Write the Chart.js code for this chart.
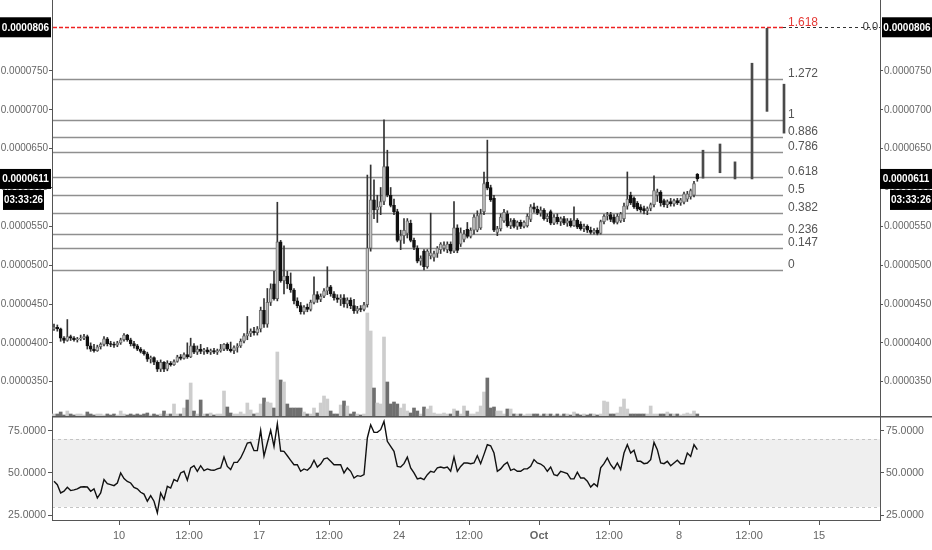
<!DOCTYPE html>
<html><head><meta charset="utf-8">
<script src="https://cdn.jsdelivr.net/npm/chart.js@4.4.1/dist/chart.umd.min.js"></script>
<style>
html,body{margin:0;padding:0;background:#fff;}
#wrap{position:relative;width:932px;height:550px;overflow:hidden;}
#c1{position:absolute;left:0;top:0;}
#c2{position:absolute;left:0;top:416px;}
</style></head><body>
<div id="wrap"><canvas id="c1" width="932" height="416"></canvas><canvas id="c2" width="932" height="134"></canvas></div>
<script>
// ---------------- DATA (prices in units of 1e-7) ----------------
const firstBarDay = 6.75;   // days since Aug 31 (Sep 6, 18:00)
const barHours = 4;
const opens = [
418,420,418,406,403,408,406,404,405,406,
408,396,392,390,395,398,405,399,398,397,
400,404,410,404,399,396,392,389,386,379,
381,375,366,375,366,374,372,376,382,380,
385,382,396,388,392,389,391,388,390,388,
390,392,398,392,390,394,396,402,409,412,
415,413,418,442,424,452,476,457,530,480,
486,476,468,454,448,440,446,443,452,462,
456,460,467,472,463,458,456,458,450,455,
448,441,444,443,449,522,584,571,575,582,
627,590,577,569,532,538,541,554,532,522,
505,518,498,512,510,515,520,522,520,527,
518,548,527,533,546,537,545,545,548,569,
607,600,586,542,547,557,566,551,558,550,
555,550,551,559,575,572,567,571,560,569,
554,562,556,560,554,557,551,558,553,547,
550,545,542,545,541,556,563,565,562,555,
557,560,576,590,586,580,575,573,570,573,
578,590,594,583,578,582,579,583,580,581,
585,588,590,617];
const highs = [
424,423,419,408,430,410,408,407,410,411,
410,400,398,397,400,408,407,402,401,402,
406,412,411,406,402,398,394,391,388,383,
382,377,378,376,377,376,378,384,385,387,
400,406,399,396,398,393,394,392,393,392,
398,399,400,401,396,399,405,412,434,418,
420,421,446,457,470,476,492,581,532,525,
492,490,470,458,452,448,450,455,485,466,
463,470,498,474,466,462,462,462,458,458,
456,447,448,452,616,629,610,590,600,687,
648,600,585,572,545,560,560,558,535,525,
512,520,520,567,518,524,529,530,530,530,
582,552,548,545,555,548,565,570,572,620,
661,603,590,550,566,572,570,560,560,557,
558,557,566,578,580,576,575,573,566,571,
565,566,562,563,560,560,575,560,556,553,
552,549,547,548,558,565,568,568,565,566,
568,580,620,594,588,582,578,576,575,580,
615,598,596,585,584,586,585,586,586,594,
595,598,608,618];
const lows = [
416,415,402,400,402,403,402,401,403,404,
392,389,388,389,392,396,396,395,394,395,
398,402,402,396,393,390,387,384,376,374,
372,363,363,363,364,370,371,375,378,379,
380,381,386,385,386,385,386,385,386,385,
388,390,390,388,386,388,394,400,404,408,
410,410,414,420,420,448,455,454,478,463,
470,465,450,445,437,437,440,441,450,452,
453,458,462,460,455,452,448,446,445,444,
438,438,440,441,446,518,560,555,565,578,
588,575,565,530,520,528,535,530,520,503,
500,494,496,508,505,510,515,518,516,515,
516,516,524,530,535,535,540,543,546,565,
597,582,543,538,544,555,549,547,548,546,
547,548,549,556,568,565,563,558,556,552,
552,553,551,552,550,549,550,547,545,543,
542,540,540,539,540,553,558,556,553,553,
555,556,572,578,573,570,568,566,565,570,
575,582,576,575,574,576,576,578,577,579,
582,585,588,608];
const closes = [
420,418,406,403,408,406,404,405,406,408,
396,392,390,395,398,405,399,398,397,400,
404,410,404,399,396,392,389,386,379,381,
375,366,375,366,374,372,376,382,380,385,
382,396,388,392,389,391,388,390,388,390,
392,398,392,390,394,396,402,409,412,415,
413,418,442,424,452,470,457,530,480,486,
476,468,454,448,440,446,443,452,462,456,
460,467,472,463,458,456,458,450,455,448,
441,444,443,449,522,584,571,575,582,627,
590,577,569,532,538,545,557,532,523,505,
509,498,518,516,515,522,527,526,527,518,
548,519,542,540,537,545,562,564,566,605,
599,584,545,547,562,568,551,556,550,555,
550,555,563,575,572,567,571,560,563,554,
562,556,560,554,557,551,558,549,547,550,
545,542,545,541,556,563,565,559,555,563,
566,576,585,580,575,572,571,570,573,578,
596,594,580,578,582,579,583,580,584,592,
592,596,605,611];
const volumes = [
2,2,4,1,5,2,1,2,2,1,
4,2,1,2,2,1,2,1,2,1,
5,2,1,2,1,2,1,2,3,1,
2,1,2,5,2,2,12,2,2,8,
16,33,5,2,16,2,2,3,1,2,
2,25,9,3,2,2,4,2,13,6,
2,3,12,18,14,13,8,64,36,34,
12,8,8,8,8,4,2,2,8,3,
13,20,17,5,2,2,11,15,10,2,
4,2,1,2,103,85,28,13,12,79,
34,12,14,12,8,12,5,3,8,5,
2,9,7,10,3,2,2,3,2,2,
7,5,2,10,5,2,2,4,10,24,
38,8,9,5,5,2,7,7,2,2,
2,1,2,2,2,2,1,2,2,2,
1,2,1,2,2,1,4,2,1,2,
1,2,2,1,2,15,14,2,2,3,
9,17,7,2,2,2,2,2,2,10,
2,2,2,2,4,2,2,2,1,2,
3,2,5,2];
const rsiValues = [
45.1,43.1,38.2,39.2,41.5,39.6,40.0,40.6,41.7,41.9,
41.7,39.2,40.6,35.2,38.2,46.1,43.7,43.1,42.5,44.1,
50.0,46.7,45.0,44.1,41.5,40.6,38.6,37.5,33.3,36.6,
33.3,26.4,38.2,34.3,42.1,41.1,46.1,45.1,50.0,51.0,
45.7,53.0,54.3,51.0,54.3,51.4,52.4,51.8,51.6,52.4,
53.0,59.4,53.9,52.0,56.3,56.3,58.9,63.0,67.7,68.1,
63.2,63.2,75.2,60.0,67.7,75.2,65.7,79.1,63.0,62.8,
60.2,57.5,54.9,54.9,51.0,52.4,51.6,53.5,57.5,53.5,
55.3,58.3,58.9,56.9,54.9,54.9,54.9,50.0,53.0,51.0,
47.0,48.4,48.0,49.0,70.7,78.5,74.0,74.0,75.6,80.5,
68.7,65.7,62.8,53.9,53.5,55.5,59.4,53.0,50.0,46.5,
47.0,46.1,49.0,51.0,50.4,53.0,53.5,53.0,53.5,51.0,
59.4,51.0,53.9,55.9,55.9,55.5,55.9,60.2,55.5,61.0,
66.7,66.1,61.8,51.0,52.4,54.9,56.3,51.6,52.4,51.0,
51.0,52.4,52.4,53.9,57.9,55.9,55.3,53.9,51.0,53.5,
49.0,48.4,51.0,50.4,49.6,46.5,46.5,50.4,47.0,47.0,
45.1,41.7,43.7,42.1,53.0,55.5,58.9,54.9,52.4,55.9,
52.0,61.8,66.7,61.8,63.4,56.9,56.9,55.5,55.9,57.9,
68.1,63.8,55.9,55.5,56.9,54.3,55.9,57.5,55.5,55.5,
61.8,59.8,66.7,63.8];
const lateBarDays  = [39.2, 40.05, 40.8, 41.65, 42.4, 43.25];
const lateBarLows  = [612, 619, 611, 611, 698, 670];
const lateBarHighs = [648, 656, 633, 760, 805, 733];
const fibRatios = [0, 0.147, 0.236, 0.382, 0.5, 0.618, 0.786, 0.886, 1, 1.272, 1.618];
const fibLow = 494, fibHigh = 687, fibEndDay = 43.2;
const priceTicks = [350, 400, 450, 500, 550, 600, 650, 700, 750];
const rsiTicks = [25, 50, 75];
const rsiUpper = 70, rsiLower = 30;
const xTickDays   = [10, 13.5, 17, 20.5, 24, 27.5, 31, 34.5, 38, 41.5, 45];
const xTickLabels = ['10','12:00','17','12:00','24','12:00','Oct','12:00','8','12:00','15'];
const countdownText = '03:33:26';

// ---------------- CONFIG ----------------
const xMin = 6.65, xMax = 48.05;
const priceMin = 305.8, priceMax = 841.4;
const rsiMin = 22.2, rsiMax = 83.1;
const FONT = "'Liberation Sans',Arial,sans-serif";
const AX = '#555', LBL = '#666';
const barDays = opens.map((_, i) => firstBarDay + i * barHours / 24);
const isUp = i => closes[i] >= opens[i];
const fmtPrice = v => (v / 1e7).toFixed(7);

function fixY(width){ return s => { s.width = width; s.paddingTop = 0; s.paddingBottom = 0; }; }
function priceAxis(pos){
  return {
    axis: 'y', position: pos, min: priceMin, max: priceMax,
    afterBuildTicks: s => { s.ticks = priceTicks.map(v => ({value: v})); },
    ticks: { callback: v => fmtPrice(v), color: LBL, font: {family: FONT, size: 10}, padding: 1 },
    grid: { drawOnChartArea: false, drawTicks: true, tickLength: 3, color: AX },
    border: { display: true, color: AX, width: 1 },
    afterFit: fixY(52)
  };
}

const overlay1 = {
  id: 'overlay1',
  beforeDatasetsDraw(chart){
    const {ctx, chartArea: a, scales: {x, y}} = chart;
    const xEnd = x.getPixelForValue(fibEndDay);
    ctx.save();
    fibRatios.forEach(r => {
      const py = Math.round(y.getPixelForValue(fibLow + r * (fibHigh - fibLow))) + 0.5;
      if (r === 1.618) {
        ctx.beginPath(); ctx.strokeStyle = '#333'; ctx.lineWidth = 1; ctx.setLineDash([3, 3]);
        ctx.moveTo(xEnd, py); ctx.lineTo(a.right, py); ctx.stroke();
        ctx.beginPath(); ctx.strokeStyle = '#ee2222'; ctx.lineWidth = 1.4; ctx.setLineDash([4, 2]);
        ctx.moveTo(a.left + 1, py); ctx.lineTo(xEnd, py); ctx.stroke();
      } else {
        ctx.beginPath(); ctx.strokeStyle = '#8f8f8f'; ctx.setLineDash([]); ctx.lineWidth = 1.3;
        ctx.moveTo(a.left + 1, py); ctx.lineTo(xEnd, py); ctx.stroke();
      }
    });
    ctx.restore();
  },
  afterDraw(chart){
    const {ctx, chartArea: a, scales: {x, y}} = chart;
    const xEnd = x.getPixelForValue(fibEndDay);
    ctx.save();
    ctx.textBaseline = 'bottom'; ctx.textAlign = 'left';
    ctx.font = "12px " + FONT;
    fibRatios.forEach(r => {
      const py = y.getPixelForValue(fibLow + r * (fibHigh - fibLow));
      ctx.fillStyle = r === 1.618 ? '#e53935' : '#555';
      ctx.fillText(String(r), xEnd + 5, py + 1);
    });
    const topP = fibLow + 1.618 * (fibHigh - fibLow);
    const yTop = y.getPixelForValue(topP);
    ctx.textBaseline = 'middle'; ctx.textAlign = 'right'; ctx.fillStyle = '#333';
    ctx.font = "11px " + FONT;
    ctx.fillText('0.0', a.right - 2, yTop);
    const last = closes[closes.length - 1];
    const yLast = y.getPixelForValue(last);
    const box = (bx, by, bw, bh, txt) => {
      ctx.fillStyle = '#000'; ctx.fillRect(bx, by, bw, bh);
      ctx.fillStyle = '#fff'; ctx.textAlign = 'center'; ctx.textBaseline = 'middle';
      ctx.font = "bold 10px " + FONT;
      ctx.fillText(txt, bx + bw / 2, by + bh / 2 + 0.5, bw - 2);
    };
    box(0, yTop - 10, 51, 20, fmtPrice(topP));
    box(a.right + 2, yTop - 10, 50, 20, fmtPrice(topP));
    box(0, yLast - 10, 51, 20, fmtPrice(last));
    box(a.right, yLast - 10, 52, 20, fmtPrice(last));
    box(3, yLast + 11, 41, 20, countdownText);
    box(a.right + 10, yLast + 11, 42, 20, countdownText);
    ctx.restore();
  }
};

new Chart(document.getElementById('c1'), {
  type: 'bar',
  data: { datasets: [
    { label: 'Volume', yAxisID: 'yv', order: 4, grouped: false, barThickness: 3,
      data: volumes.map((v, i) => ({x: barDays[i], y: v})),
      backgroundColor: volumes.map((v, i) => isUp(i) ? '#cdcdcd' : '#6f6f6f') },
    { label: 'Wick', yAxisID: 'y', order: 3, grouped: false, barThickness: 1,
      data: highs.map((h, i) => ({x: barDays[i], y: [lows[i], h]})),
      backgroundColor: '#333' },
    { label: 'Body', yAxisID: 'y', order: 2, grouped: false, barThickness: 3,
      data: opens.map((o, i) => ({x: barDays[i], y: [o, closes[i]]})),
      backgroundColor: opens.map((o, i) => isUp(i) ? '#c4c4c4' : '#111'),
      borderColor: opens.map((o, i) => isUp(i) ? '#6c6c6c' : '#111'),
      borderWidth: 1, borderSkipped: false },
    { label: 'Late', yAxisID: 'y', order: 1, grouped: false, barThickness: 2,
      data: lateBarDays.map((d, i) => ({x: d, y: [lateBarLows[i], lateBarHighs[i]]})),
      backgroundColor: '#4a4a4a' }
  ]},
  options: {
    responsive: false, animation: false, events: [],
    layout: { padding: 0 },
    plugins: { legend: {display: false}, tooltip: {enabled: false} },
    scales: {
      x: { type: 'linear', min: xMin, max: xMax, display: false, offset: false },
      y: priceAxis('left'),
      y2: priceAxis('right'),
      yv: { display: false, min: 0, max: 416 }
    }
  },
  plugins: [overlay1]
});

const overlay2 = {
  id: 'overlay2',
  beforeDraw(chart){
    const {ctx, chartArea: a, scales: {yr}} = chart;
    const y70 = yr.getPixelForValue(rsiUpper), y30 = yr.getPixelForValue(rsiLower);
    ctx.save();
    ctx.fillStyle = '#efefef';
    ctx.fillRect(a.left, y70, a.right - a.left, y30 - y70);
    ctx.strokeStyle = '#c4c4c4'; ctx.lineWidth = 1; ctx.setLineDash([3, 3]);
    [y70, y30].forEach(py => { ctx.beginPath(); ctx.moveTo(a.left, Math.round(py) + 0.5); ctx.lineTo(a.right, Math.round(py) + 0.5); ctx.stroke(); });
    ctx.restore();
  },
  afterDraw(chart){
    const {ctx, chartArea: a} = chart;
    ctx.save();
    ctx.strokeStyle = AX; ctx.lineWidth = 1.5;
    ctx.beginPath(); ctx.moveTo(a.left, 0.75); ctx.lineTo(chart.width, 0.75); ctx.stroke();
    ctx.restore();
  }
};
function rsiAxis(pos){
  return {
    axis: 'y', position: pos, min: rsiMin, max: rsiMax,
    afterBuildTicks: s => { s.ticks = rsiTicks.map(v => ({value: v})); },
    ticks: { callback: v => v.toFixed(4), color: LBL, font: {family: FONT, size: 10.5}, padding: 2 },
    grid: { drawOnChartArea: false, drawTicks: true, tickLength: 4, color: AX },
    border: { display: true, color: AX, width: 1 },
    afterFit: fixY(52)
  };
}
new Chart(document.getElementById('c2'), {
  type: 'line',
  data: { datasets: [{
    label: 'RSI', yAxisID: 'yr', xAxisID: 'x',
    data: rsiValues.map((v, i) => ({x: barDays[i], y: v})),
    borderColor: '#111', borderWidth: 1.4, pointRadius: 0, tension: 0, fill: false
  }]},
  options: {
    responsive: false, animation: false, events: [],
    layout: { padding: {top: 1, left: 0, right: 0, bottom: 0} },
    plugins: { legend: {display: false}, tooltip: {enabled: false} },
    scales: {
      x: { type: 'linear', min: xMin, max: xMax, offset: false,
        afterBuildTicks: s => { s.ticks = xTickDays.map(v => ({value: v})); },
        ticks: { autoSkip: false, maxRotation: 0, padding: 4, color: LBL,
          callback: (v, i) => xTickLabels[i],
          font: c => ({family: FONT, size: 11, weight: xTickLabels[c.index] === 'Oct' ? 'bold' : 'normal'})
        },
        grid: { drawOnChartArea: false, drawTicks: true, tickLength: 5, color: AX },
        border: { display: true, color: AX, width: 1 },
        afterFit: s => { s.height = 30; s.paddingLeft = 0; s.paddingRight = 0; } },
      yr: rsiAxis('left'),
      yr2: rsiAxis('right')
    }
  },
  plugins: [overlay2]
});
</script></body></html>
